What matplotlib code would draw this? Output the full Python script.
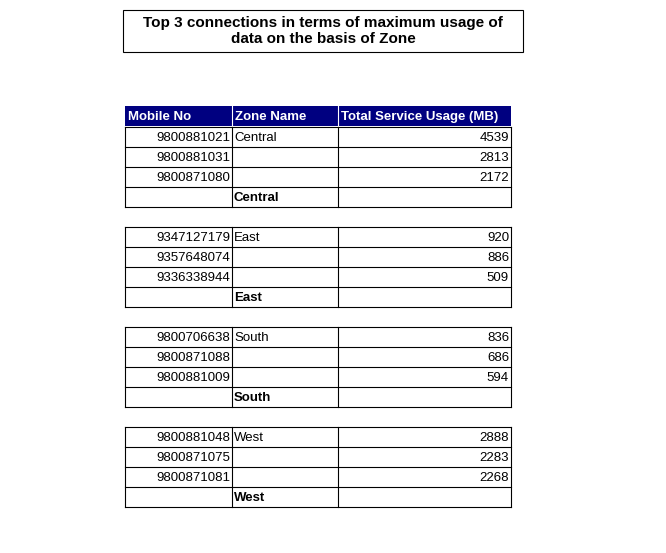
import matplotlib.pyplot as plt
from matplotlib.patches import Rectangle

plt.rcParams['font.family'] = ['Liberation Sans', 'DejaVu Sans']

title = "Top 3 connections in terms of maximum usage of\ndata on the basis of Zone"
headers = ["Mobile No", "Zone Name", "Total Service Usage (MB)"]
zones = ["Central", "East", "South", "West"]
mobiles = [[9800881021, 9800881031, 9800871080],
           [9347127179, 9357648074, 9336338944],
           [9800706638, 9800871088, 9800881009],
           [9800881048, 9800871075, 9800871081]]
usage = [[4539, 2813, 2172],
         [920, 886, 509],
         [836, 686, 594],
         [2888, 2283, 2268]]

fig = plt.figure(figsize=(6.66, 5.53), dpi=100)
ax = fig.add_axes([0, 0, 1, 1])
ax.set_xlim(0, 666)
ax.set_ylim(553, 0)
ax.axis('off')

# title box
ax.add_patch(Rectangle((123, 10), 400, 42, fill=False, lw=0.8, ec='black'))
ax.text(323, 31, title, ha='center', va='center', fontsize=11, fontweight='bold',
        linespacing=1.1)

cols = [125, 232, 338, 511]
rh = 20

# header
hy = 106
ax.add_patch(Rectangle((cols[0], hy), cols[3] - cols[0], rh, fc='#000080', ec='none'))
for x in cols[1:3]:
    ax.plot([x, x], [hy, hy + rh], color='white', lw=0.8)
for i, h in enumerate(headers):
    ax.text(cols[i] + 3, hy + rh / 2 + 1, h, color='white', fontweight='bold',
            fontsize=9.5, va='center', ha='left')

y0 = 127
for g, zone in enumerate(zones):
    top = y0 + g * 100
    rows = [(str(m), zone if i == 0 else "", str(u)) for i, (m, u) in
            enumerate(zip(mobiles[g], usage[g]))]
    rows.append(("", zone, ""))
    n = len(rows)
    for r in range(n + 1):
        ax.plot([cols[0], cols[3]], [top + r * rh] * 2, color='black', lw=0.8)
    for x in cols:
        ax.plot([x, x], [top, top + n * rh], color='black', lw=0.8)
    for r, (m, z, u) in enumerate(rows):
        yc = top + r * rh + rh / 2 + 1
        ax.text(cols[1] - 2, yc, m, ha='right', va='center', fontsize=9.5)
        ax.text(cols[1] + 2, yc, z, ha='left', va='center', fontsize=9.5,
                fontweight='bold' if r == n - 1 else 'normal')
        ax.text(cols[3] - 2, yc, u, ha='right', va='center', fontsize=9.5)

fig.savefig('out.png', dpi=100)
